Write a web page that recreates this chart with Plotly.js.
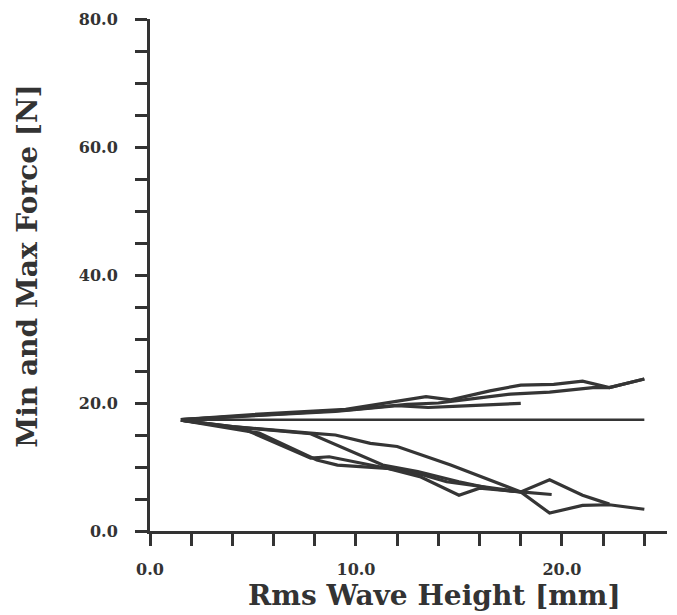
<!DOCTYPE html>
<html>
<head>
<meta charset="utf-8">
<script src="https://cdn.plot.ly/plotly-3.0.1.min.js"></script>
<style>html,body{margin:0;padding:0;background:#fff;}#chart{width:677px;height:615px;}</style>
</head>
<body>
<div id="chart"></div>
<script>
// Max force curves
var maxA_x = [1.5, 5, 9.5, 12, 13.4, 14.6, 16.5, 18, 19.6, 21, 22.3, 24];
var maxA_y = [17.4, 18.2, 19.0, 20.3, 21.0, 20.5, 21.9, 22.8, 22.9, 23.4, 22.4, 23.75];
var maxB_x = [1.5, 5, 9.5, 12.5, 14, 16, 17.5, 19.4, 21.5, 22.3, 24];
var maxB_y = [17.4, 18.1, 18.9, 19.8, 20.0, 20.8, 21.4, 21.7, 22.4, 22.4, 23.75];
var maxC_x = [1.5, 5, 9, 12, 13.5, 15, 18];
var maxC_y = [17.4, 18.0, 18.7, 19.6, 19.3, 19.5, 19.95];
// Static force (horizontal)
var mean_x = [1.5, 24];
var mean_y = [17.4, 17.4];
// Min force curves
var minD_x = [1.5, 4, 7.8, 9, 10.7, 12, 14.6, 16.3, 18, 19.4, 21, 22.3, 24];
var minD_y = [17.3, 16.3, 15.3, 15.0, 13.7, 13.2, 10.3, 8.2, 6.1, 2.8, 4.0, 4.1, 3.4];
var minE_x = [1.5, 4, 7.8, 11.3, 13, 15, 16.6, 18, 19.4, 21, 22.3];
var minE_y = [17.3, 16.3, 15.2, 10.3, 9.3, 7.7, 6.6, 6.1, 8.0, 5.6, 4.2];
var minF_x = [1.5, 4.5, 7.8, 8.7, 11.5, 13.1, 14.4, 16.3, 18, 19.5];
var minF_y = [17.3, 16.0, 11.4, 11.6, 9.8, 8.9, 7.7, 6.9, 6.1, 5.7];
var minG_x = [1.5, 5.3, 8.1, 9.1, 11.5, 13.1, 15, 16, 18];
var minG_y = [17.3, 15.3, 11.1, 10.3, 9.8, 8.5, 5.6, 6.7, 6.1];

var xTickVals = [0, 10, 20];
var xTickText = ['0.0', '10.0', '20.0'];
var yTickVals = [0, 20, 40, 60, 80];
var yTickText = ['0.0', '20.0', '40.0', '60.0', '80.0'];
var xTitle = 'Rms Wave Height [mm]';
var yTitle = 'Min and Max Force [N]';

var lineCol = '#353535';
var series = [
  [maxA_x, maxA_y], [maxB_x, maxB_y], [maxC_x, maxC_y],
  [minD_x, minD_y], [minE_x, minE_y], [minF_x, minF_y], [minG_x, minG_y]
];
var traces = series.map(function (s) {
  return {x: s[0], y: s[1], mode: 'lines', type: 'scatter',
    line: {color: lineCol, width: 3.2}, hoverinfo: 'skip', showlegend: false};
});
traces.push({x: mean_x, y: mean_y, mode: 'lines', type: 'scatter',
  line: {color: lineCol, width: 2.5}, showlegend: false});

var tickFont = {family: 'DejaVu Serif, serif', size: 16, weight: 'bold', color: '#333'};
var titleFont = {family: 'DejaVu Serif, serif', weight: 'bold', color: '#333'};

var layout = {
  width: 677, height: 615,
  margin: {l: 150, r: 10, t: 19, b: 84, pad: 0},
  paper_bgcolor: '#fff', plot_bgcolor: '#fff',
  showlegend: false,
  xaxis: {
    range: [0, 25.1], showgrid: false, zeroline: false,
    showline: true, linewidth: 3, linecolor: '#333',
    ticks: 'outside', ticklen: 12, tickwidth: 3, tickcolor: '#333',
    tickmode: 'array', tickvals: xTickVals, ticktext: xTickText,
    minor: {tickmode: 'linear', tick0: 0, dtick: 2, ticks: 'outside', ticklen: 12, tickwidth: 3, tickcolor: '#333', showgrid: false},
    tickfont: tickFont, ticklabelstandoff: 10
  },
  yaxis: {
    range: [0, 80], showgrid: false, zeroline: false,
    showline: true, linewidth: 3, linecolor: '#333',
    ticks: 'outside', ticklen: 12, tickwidth: 3, tickcolor: '#333',
    tickmode: 'array', tickvals: yTickVals, ticktext: yTickText,
    minor: {tickmode: 'linear', tick0: 0, dtick: 5, ticks: 'outside', ticklen: 12, tickwidth: 3, tickcolor: '#333', showgrid: false},
    tickfont: tickFont, ticklabelstandoff: 14
  },
  annotations: [
    {text: xTitle, xref: 'paper', yref: 'paper', x: 0.551, y: -0.162,
      xanchor: 'center', yanchor: 'bottom', showarrow: false,
      font: Object.assign({size: 28}, titleFont)},
    {text: yTitle, xref: 'paper', yref: 'paper', x: -0.236, y: 0.518,
      xanchor: 'center', yanchor: 'middle', showarrow: false, textangle: -90,
      font: Object.assign({size: 28}, titleFont)}
  ]
};

Plotly.newPlot('chart', traces, layout, {staticPlot: true, displayModeBar: false});
</script>
</body>
</html>
